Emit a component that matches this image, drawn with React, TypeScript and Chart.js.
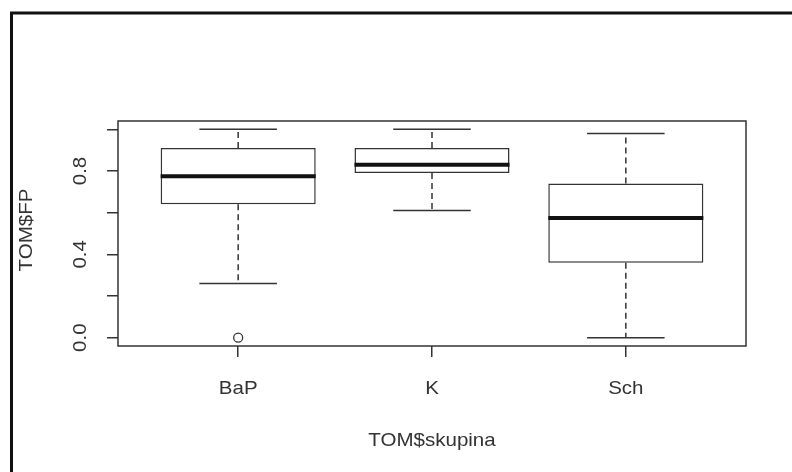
import { useEffect, useRef } from 'react';
import { Chart, registerables } from 'chart.js';

Chart.register(...registerables);

// ---- data ----
const categories = ['BaP', 'K', 'Sch'];
const lowerWhisker = [0.26, 0.61, 0.0];
const q1 = [0.64, 0.79, 0.36];
const medians = [0.775, 0.83, 0.575];
const q3 = [0.91, 0.91, 0.74];
const upperWhisker = [1.0, 1.0, 0.98];
const outlierCategory = ['BaP'];
const outlierValues = [0.0];
const yTickValues = [0, 0.2, 0.4, 0.6, 0.8, 1.0];
const yTickLabels = ['0.0', '', '0.4', '', '0.8', ''];
const xTitle = 'TOM$skupina';
const yTitle = 'TOM$FP';

const FONT_FAMILY = '"Liberation Sans", Arial, sans-serif';
const FONT_SIZE = 19;
const TEXT_STRETCH = 1.08;
const TEXT_COLOR = '#333333';
const LINE_COLOR = '#333333';

function drawText(ctx: CanvasRenderingContext2D, text: string, x: number, y: number, rot: number) {
  ctx.save();
  ctx.translate(x, y);
  ctx.rotate(rot);
  ctx.scale(TEXT_STRETCH, 1);
  ctx.fillText(text, 0, 0);
  ctx.restore();
}

const boxPlugin = {
  id: 'boxParts',
  afterDatasetsDraw(chart: any) {
    const ctx: CanvasRenderingContext2D = chart.ctx;
    const xs = chart.scales.x;
    const ys = chart.scales.y;
    const unit = xs.getPixelForValue(2) - xs.getPixelForValue(1);
    const boxHalf = unit * 0.4;
    const capHalf = unit * 0.2;
    ctx.save();
    categories.forEach((_, i) => {
      const cx = xs.getPixelForValue(i + 1);
      // whiskers (dashed)
      ctx.strokeStyle = LINE_COLOR;
      ctx.lineWidth = 1.5;
      ctx.setLineDash([6, 4]);
      ctx.beginPath();
      ctx.moveTo(cx, ys.getPixelForValue(q3[i]));
      ctx.lineTo(cx, ys.getPixelForValue(upperWhisker[i]));
      ctx.moveTo(cx, ys.getPixelForValue(q1[i]));
      ctx.lineTo(cx, ys.getPixelForValue(lowerWhisker[i]));
      ctx.stroke();
      ctx.setLineDash([]);
      // caps
      ctx.beginPath();
      const yu = ys.getPixelForValue(upperWhisker[i]);
      const yl = ys.getPixelForValue(lowerWhisker[i]);
      ctx.moveTo(cx - capHalf, yu);
      ctx.lineTo(cx + capHalf, yu);
      ctx.moveTo(cx - capHalf, yl);
      ctx.lineTo(cx + capHalf, yl);
      ctx.stroke();
      // median
      ctx.strokeStyle = '#111111';
      ctx.lineWidth = 4;
      ctx.beginPath();
      const ym = ys.getPixelForValue(medians[i]);
      ctx.moveTo(cx - boxHalf, ym);
      ctx.lineTo(cx + boxHalf, ym);
      ctx.stroke();
    });
    ctx.restore();
  },
  afterDraw(chart: any) {
    const ctx: CanvasRenderingContext2D = chart.ctx;
    const xs = chart.scales.x;
    const ys = chart.scales.y;
    const a = chart.chartArea;
    ctx.save();
    // plot box
    ctx.strokeStyle = LINE_COLOR;
    ctx.lineWidth = 1.5;
    ctx.strokeRect(a.left, a.top, a.right - a.left, a.bottom - a.top);
    // outer frame
    ctx.strokeStyle = '#111111';
    ctx.lineWidth = 3;
    ctx.beginPath();
    ctx.moveTo(11.5, 472);
    ctx.lineTo(11.5, 13);
    ctx.lineTo(792, 13);
    ctx.stroke();
    // texts
    ctx.fillStyle = TEXT_COLOR;
    ctx.font = `${FONT_SIZE}px ${FONT_FAMILY}`;
    ctx.textAlign = 'center';
    ctx.textBaseline = 'alphabetic';
    categories.forEach((c, i) => {
      drawText(ctx, c, xs.getPixelForValue(i + 1), 394, 0);
    });
    drawText(ctx, xTitle, (a.left + a.right) / 2, 446, 0);
    yTickValues.forEach((v, i) => {
      if (yTickLabels[i]) drawText(ctx, yTickLabels[i], 86, ys.getPixelForValue(v), -Math.PI / 2);
    });
    drawText(ctx, yTitle, 32, 230, -Math.PI / 2);
    ctx.restore();
  },
};

export default function App() {
  const ref = useRef<HTMLCanvasElement | null>(null);
  useEffect(() => {
    const canvas = ref.current;
    if (!canvas) return;
    const chart = new Chart(canvas, {
      type: 'bar',
      data: {
        datasets: [
          {
            type: 'bar',
            label: 'box',
            data: categories.map((_, i) => ({ x: i + 1, y: [q1[i], q3[i]] })) as any,
            backgroundColor: '#ffffff',
            borderColor: LINE_COLOR,
            borderWidth: 1.5,
            borderSkipped: false,
            barPercentage: 0.8,
            categoryPercentage: 1,
          },
          {
            type: 'scatter',
            label: 'outliers',
            data: outlierValues.map((v, i) => ({ x: categories.indexOf(outlierCategory[i]) + 1, y: v })),
            pointRadius: 4.5,
            pointStyle: 'circle',
            backgroundColor: '#ffffff',
            borderColor: LINE_COLOR,
            borderWidth: 1.3,
          } as any,
        ],
      },
      options: {
        animation: false,
        responsive: false,
        layout: { padding: { top: 121, right: 46, bottom: 0, left: 0 } },
        plugins: { legend: { display: false }, tooltip: { enabled: false } },
        scales: {
          x: {
            type: 'linear',
            min: 0.38,
            max: 3.62,
            offset: false,
            afterBuildTicks: (s: any) => {
              s.ticks = categories.map((_, i) => ({ value: i + 1 }));
            },
            afterFit: (s: any) => {
              s.height = 126;
            },
            ticks: { display: false },
            grid: { drawOnChartArea: false, drawTicks: true, tickLength: 11, color: LINE_COLOR, lineWidth: 1.5, offset: false },
            border: { display: false },
          },
          y: {
            type: 'linear',
            min: -0.04,
            max: 1.04,
            afterBuildTicks: (s: any) => {
              s.ticks = yTickValues.map((v) => ({ value: v }));
            },
            afterFit: (s: any) => {
              s.width = 118;
            },
            ticks: { display: false },
            grid: { drawOnChartArea: false, drawTicks: true, tickLength: 11, color: LINE_COLOR, lineWidth: 1.5 },
            border: { display: false },
          },
        },
      },
      plugins: [boxPlugin],
    });
    return () => chart.destroy();
  }, []);
  return (
    <div style={{ position: 'fixed', left: 0, top: 0, width: 792, height: 472, background: '#ffffff' }}>
      <canvas ref={ref} width={792} height={472} style={{ display: 'block', width: 792, height: 472 }} />
    </div>
  );
}
